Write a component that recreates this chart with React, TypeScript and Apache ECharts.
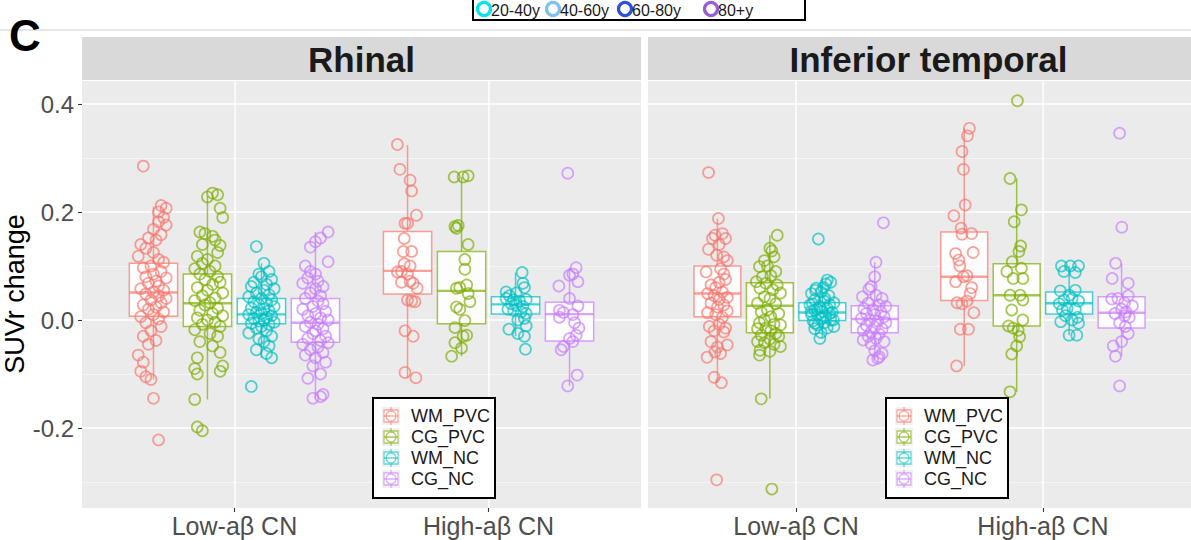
import React, { useEffect, useRef } from "react";
import * as echarts from "echarts";

// ---------- labels ----------
const facets = ["Rhinal", "Inferior temporal"];
const categories = ["Low-aβ CN", "High-aβ CN"];
const groups = ["WM_PVC", "CG_PVC", "WM_NC", "CG_NC"];
const groupColors = ["#F8766D", "#7CAE00", "#00BFC4", "#C77CFF"];
const yTicks = [-0.2, 0, 0.2, 0.4];
const yMinorTicks = [-0.3, -0.1, 0.1, 0.3];
const ageLabels = ["20-40y", "40-60y", "60-80y", "80+y"];
const ageColors = ["#00E5EE", "#7EC0EE", "#2F4FDB", "#9B5DD6"];

// ---------- box stats [lowWhisker, q1, median, q3, highWhisker] ----------
const boxesRhinalLow = [
  [-0.11, 0.007, 0.051, 0.105, 0.21],
  [-0.147, -0.012, 0.031, 0.085, 0.23],
  [-0.07, -0.007, 0.0105, 0.04, 0.105],
  [-0.145, -0.041, -0.005, 0.04, 0.163],
];
const boxesRhinalHigh = [
  [-0.107, 0.048, 0.091, 0.164, 0.324],
  [-0.067, -0.007, 0.054, 0.127, 0.265],
  [-0.03, 0.011, 0.029, 0.043, 0.088],
  [-0.122, -0.039, 0.011, 0.033, 0.097],
];
const boxesInfTempLow = [
  [-0.116, 0.006, 0.049, 0.1, 0.188],
  [-0.146, -0.0235, 0.0265, 0.069, 0.157],
  [-0.034, -0.001, 0.014, 0.032, 0.074],
  [-0.074, -0.0235, 0.002, 0.0265, 0.107],
];
const boxesInfTempHigh = [
  [-0.085, 0.036, 0.08, 0.163, 0.355],
  [-0.133, -0.011, 0.046, 0.104, 0.262],
  [-0.028, 0.011, 0.031, 0.052, 0.1],
  [-0.067, -0.015, 0.0135, 0.043, 0.105],
];

// ---------- jittered points [xJitter, value] ----------
const rhinalLowWM_PVC = [[-0.04,0.285],[0.03,0.212],[0.05,0.207],[0.02,0.2],[0.04,0.19],[0.02,0.182],[0.05,0.176],[0.0,0.168],[0.03,0.158],[-0.02,0.152],[0.01,0.148],[-0.05,0.14],[-0.03,0.133],[0.0,0.125],[-0.06,0.118],[0.02,0.112],[0.04,0.107],[-0.01,0.1],[-0.04,0.097],[0.03,0.09],[0.0,0.085],[-0.03,0.08],[0.05,0.078],[0.01,0.072],[-0.02,0.068],[0.02,0.063],[-0.05,0.058],[0.04,0.055],[0.0,0.052],[-0.03,0.048],[0.02,0.045],[0.05,0.04],[-0.01,0.037],[0.03,0.032],[-0.04,0.028],[0.01,0.024],[-0.02,0.02],[0.04,0.015],[0.0,0.01],[-0.05,0.006],[0.02,0.002],[-0.03,-0.005],[0.03,-0.012],[-0.01,-0.02],[-0.04,-0.03],[0.01,-0.038],[-0.02,-0.045],[-0.06,-0.065],[-0.04,-0.078],[-0.05,-0.095],[-0.03,-0.105],[-0.01,-0.11],[0.0,-0.145],[0.02,-0.222]];
const rhinalLowCG_PVC = [[0.02,0.235],[0.04,0.232],[0.0,0.228],[0.05,0.207],[0.06,0.19],[-0.03,0.163],[-0.01,0.16],[0.02,0.155],[0.03,0.148],[-0.02,0.14],[0.05,0.138],[0.04,0.125],[-0.04,0.118],[0.0,0.112],[-0.02,0.105],[0.03,0.1],[-0.05,0.095],[0.01,0.09],[-0.03,0.085],[0.04,0.08],[-0.01,0.075],[0.05,0.07],[0.02,0.066],[-0.04,0.06],[0.0,0.055],[0.06,0.05],[-0.02,0.045],[0.03,0.041],[-0.05,0.036],[0.01,0.032],[-0.01,0.028],[0.04,0.022],[-0.03,0.018],[0.02,0.012],[0.06,0.008],[-0.04,0.004],[0.0,0.0],[0.03,-0.004],[-0.02,-0.008],[0.05,-0.012],[-0.05,-0.018],[0.01,-0.025],[0.04,-0.03],[-0.03,-0.04],[0.02,-0.048],[0.05,-0.06],[-0.04,-0.07],[0.06,-0.085],[-0.05,-0.09],[0.05,-0.095],[-0.04,-0.1],[-0.05,-0.147],[-0.04,-0.198],[-0.02,-0.205]];
const rhinalLowWM_NC = [[-0.02,0.136],[0.01,0.105],[0.03,0.09],[-0.01,0.085],[0.0,0.08],[0.04,0.075],[-0.03,0.07],[0.02,0.066],[-0.04,0.062],[0.05,0.058],[0.01,0.055],[-0.02,0.05],[0.03,0.047],[-0.05,0.043],[0.0,0.04],[0.04,0.037],[-0.03,0.034],[0.02,0.031],[-0.01,0.028],[0.05,0.025],[-0.04,0.022],[0.01,0.02],[0.03,0.017],[-0.02,0.014],[0.0,0.012],[-0.05,0.01],[0.04,0.008],[0.02,0.005],[-0.03,0.003],[0.01,0.0],[-0.01,-0.002],[0.05,-0.004],[-0.04,-0.006],[0.03,-0.008],[0.0,-0.012],[-0.02,-0.015],[0.02,-0.02],[-0.05,-0.024],[0.04,-0.03],[-0.01,-0.035],[0.01,-0.04],[0.03,-0.048],[-0.02,-0.055],[0.02,-0.062],[0.04,-0.07],[-0.04,-0.123]];
const rhinalLowCG_NC = [[0.05,0.163],[0.02,0.152],[0.0,0.145],[-0.02,0.135],[0.05,0.108],[-0.04,0.1],[-0.02,0.09],[0.0,0.085],[-0.03,0.078],[0.01,0.072],[-0.05,0.068],[0.03,0.062],[0.0,0.058],[-0.02,0.05],[0.02,0.045],[-0.04,0.04],[0.01,0.035],[0.03,0.03],[-0.01,0.025],[-0.05,0.02],[0.04,0.016],[0.0,0.012],[-0.03,0.008],[0.02,0.004],[0.05,0.0],[-0.02,-0.004],[0.01,-0.008],[-0.04,-0.012],[0.03,-0.016],[0.0,-0.02],[-0.01,-0.025],[0.04,-0.03],[-0.03,-0.034],[0.02,-0.038],[0.05,-0.042],[-0.05,-0.045],[0.01,-0.05],[-0.02,-0.055],[0.03,-0.06],[-0.04,-0.065],[0.0,-0.07],[0.04,-0.078],[-0.01,-0.085],[0.02,-0.1],[-0.03,-0.108],[0.03,-0.138],[0.02,-0.142],[-0.01,-0.145]];

const rhinalHighWM_PVC = [[-0.04,0.325],[-0.03,0.279],[0.01,0.259],[0.016,0.239],[0.035,0.194],[-0.01,0.179],[0.0,0.179],[-0.013,0.151],[-0.017,0.127],[0.016,0.127],[-0.013,0.104],[0.01,0.1],[-0.04,0.089],[-0.024,0.09],[0.0,0.085],[-0.024,0.07],[0.01,0.072],[0.022,0.068],[0.038,0.059],[0.0,0.037],[0.016,0.035],[0.029,0.034],[-0.01,-0.02],[0.022,-0.03],[-0.01,-0.097],[0.033,-0.107]];
const rhinalHighCG_PVC = [[-0.029,0.265],[0.006,0.265],[0.026,0.267],[-0.026,0.173],[-0.013,0.175],[-0.02,0.17],[0.026,0.14],[0.013,0.112],[0.013,0.094],[0.02,0.065],[-0.02,0.059],[-0.007,0.06],[0.026,0.049],[0.033,0.034],[-0.02,0.024],[-0.007,0.02],[0.013,-0.001],[-0.026,-0.014],[0.02,-0.028],[0.006,-0.03],[-0.026,-0.042],[0.0,-0.052],[-0.039,-0.067]];
const rhinalHighWM_NC = [[0.026,0.088],[0.029,0.068],[0.035,0.06],[-0.037,0.052],[0.003,0.05],[-0.024,0.045],[-0.037,0.04],[-0.008,0.037],[0.016,0.035],[0.042,0.038],[-0.017,0.03],[0.003,0.027],[0.029,0.025],[-0.03,0.02],[-0.008,0.018],[0.022,0.015],[0.042,0.012],[0.035,0.003],[0.009,0.0],[0.042,-0.011],[-0.026,-0.017],[0.009,-0.025],[0.035,-0.03],[0.039,-0.054]];
const rhinalHighCG_NC = [[-0.007,0.272],[0.026,0.097],[0.0,0.083],[0.033,0.071],[0.013,0.085],[-0.042,0.063],[0.0,0.04],[-0.04,0.018],[-0.024,0.014],[0.033,0.026],[0.013,0.01],[-0.04,0.005],[0.02,-0.005],[0.037,-0.015],[0.026,-0.028],[0.0,-0.034],[0.013,-0.04],[-0.024,-0.049],[-0.033,-0.055],[0.03,-0.102],[-0.007,-0.122]];

const infTempLowWM_PVC = [[-0.036,0.273],[0.004,0.188],[-0.02,0.151],[0.033,0.151],[-0.01,0.157],[0.02,0.16],[-0.036,0.131],[0.007,0.14],[0.026,0.117],[-0.003,0.12],[0.04,0.11],[-0.046,0.089],[0.013,0.095],[0.026,0.085],[-0.026,0.065],[0.007,0.07],[0.033,0.075],[-0.007,0.06],[-0.04,0.049],[0.02,0.052],[-0.013,0.045],[0.04,0.042],[0.007,0.038],[-0.026,0.031],[0.026,0.028],[0.0,0.024],[-0.04,0.0135],[0.04,0.017],[-0.007,0.01],[0.02,0.005],[-0.033,-0.012],[0.007,-0.008],[0.033,-0.015],[-0.013,-0.02],[0.026,-0.022],[-0.026,-0.04],[0.04,-0.046],[0.0,-0.05],[-0.042,-0.069],[-0.01,-0.059],[0.013,-0.062],[-0.013,-0.106],[0.016,-0.116],[-0.003,-0.296]];
const infTempLowCG_PVC = [[0.03,0.157],[0.0,0.133],[0.008,0.128],[0.017,0.117],[-0.022,0.11],[-0.042,0.099],[-0.01,0.1],[0.024,0.09],[-0.03,0.08],[0.004,0.082],[-0.055,0.071],[-0.016,0.068],[0.03,0.065],[-0.04,0.059],[0.012,0.056],[0.043,0.05],[-0.022,0.043],[0.0,0.04],[-0.05,0.031],[0.024,0.03],[-0.01,0.0185],[-0.035,0.015],[0.036,0.012],[0.004,0.006],[-0.022,0.0],[-0.042,-0.005],[0.017,-0.008],[0.043,-0.009],[-0.016,-0.015],[-0.05,-0.016],[0.004,-0.02],[0.024,-0.025],[-0.035,-0.028],[0.036,-0.03],[0.0,-0.035],[-0.05,-0.04],[-0.022,-0.042],[0.017,-0.045],[0.043,-0.049],[-0.04,-0.056],[0.0,-0.058],[-0.042,-0.065],[-0.035,-0.146],[0.008,-0.313]];
const infTempLowWM_NC = [[-0.016,0.15],[0.02,0.074],[0.034,0.07],[0.014,0.067],[-0.025,0.059],[-0.044,0.049],[-0.005,0.052],[0.027,0.045],[-0.031,0.037],[0.008,0.035],[0.047,0.032],[-0.05,0.028],[-0.01,0.025],[0.02,0.022],[-0.031,0.0185],[0.0,0.016],[0.04,0.014],[-0.044,0.01],[-0.018,0.009],[0.014,0.006],[-0.005,0.003],[0.034,0.0],[-0.037,-0.002],[0.008,-0.005],[-0.018,-0.009],[0.047,-0.012],[0.02,-0.015],[-0.031,-0.016],[-0.005,-0.023],[-0.01,-0.034],[0.03,0.012],[-0.02,0.02],[0.01,0.04],[0.03,0.028],[-0.03,-0.006],[0.045,0.0],[-0.04,0.03],[0.005,0.06],[-0.028,0.055],[-0.045,0.016]];
const infTempLowCG_NC = [[0.035,0.18],[0.005,0.107],[0.0,0.08],[-0.015,0.062],[-0.024,0.057],[0.005,0.046],[-0.05,0.043],[0.03,0.04],[-0.027,0.031],[0.018,0.028],[0.045,0.025],[-0.044,0.0215],[-0.008,0.019],[0.025,0.015],[-0.034,0.012],[0.0,0.01],[0.038,0.006],[-0.054,0.003],[-0.02,0.0],[0.012,-0.002],[0.045,-0.005],[-0.034,-0.01],[0.0,-0.013],[0.03,-0.016],[-0.047,-0.019],[-0.015,-0.022],[0.018,-0.026],[-0.027,-0.03],[0.005,-0.034],[-0.047,-0.037],[0.038,-0.04],[-0.015,-0.044],[0.0,-0.057],[0.03,-0.062],[0.012,-0.071],[-0.008,-0.074],[0.018,-0.068]];

const infTempHighWM_PVC = [[0.021,0.355],[0.013,0.341],[-0.009,0.312],[-0.003,0.279],[0.004,0.213],[-0.042,0.193],[-0.013,0.17],[-0.009,0.159],[0.03,0.16],[-0.035,0.123],[-0.022,0.111],[0.036,0.125],[-0.018,0.1],[-0.003,0.08],[0.011,0.082],[-0.035,0.071],[0.024,0.049],[0.03,0.06],[-0.029,0.032],[-0.009,0.03],[0.011,0.035],[0.039,0.0135],[-0.016,-0.017],[0.017,-0.017],[-0.031,-0.085]];
const infTempHighCG_PVC = [[0.003,0.406],[-0.027,0.262],[0.019,0.204],[-0.01,0.182],[0.016,0.137],[0.009,0.127],[-0.018,0.108],[-0.04,0.09],[0.019,0.096],[-0.014,0.077],[0.025,0.077],[-0.027,0.046],[0.014,0.046],[0.025,0.037],[-0.02,0.0185],[0.025,0.0],[-0.033,-0.011],[-0.014,-0.015],[0.006,-0.019],[0.012,-0.031],[0.0,-0.048],[-0.02,-0.063],[-0.027,-0.133]];
const infTempHighWM_NC = [[-0.031,0.1],[0.005,0.1],[0.038,0.1],[0.025,0.088],[-0.021,0.09],[-0.036,0.054],[0.025,0.055],[0.0,0.046],[-0.021,0.037],[0.012,0.04],[0.038,0.035],[-0.04,0.03],[-0.008,0.0215],[0.025,0.02],[-0.027,0.018],[0.034,0.005],[-0.015,0.008],[0.012,0.0],[-0.034,-0.003],[0.038,-0.006],[0.0,-0.028],[0.031,-0.028]];
const infTempHighCG_NC = [[-0.008,0.346],[0.001,0.172],[-0.024,0.105],[-0.038,0.077],[0.027,0.068],[-0.04,0.039],[-0.015,0.04],[0.027,0.045],[0.012,0.032],[0.044,0.026],[0.0,0.02],[0.018,0.015],[-0.027,0.012],[0.012,0.008],[0.031,0.005],[-0.008,-0.005],[0.015,-0.012],[0.027,-0.025],[-0.034,-0.048],[0.0,-0.04],[-0.025,-0.067],[-0.008,-0.122]];

// ---------- assembled (facet -> category -> group) ----------
const facetBoxes = [
  [boxesRhinalLow, boxesRhinalHigh],
  [boxesInfTempLow, boxesInfTempHigh],
];
const facetPoints = [
  [
    [rhinalLowWM_PVC, rhinalLowCG_PVC, rhinalLowWM_NC, rhinalLowCG_NC],
    [rhinalHighWM_PVC, rhinalHighCG_PVC, rhinalHighWM_NC, rhinalHighCG_NC],
  ],
  [
    [infTempLowWM_PVC, infTempLowCG_PVC, infTempLowWM_NC, infTempLowCG_NC],
    [infTempHighWM_PVC, infTempHighCG_PVC, infTempHighWM_NC, infTempHighCG_NC],
  ],
];

// ---------- layout / style ----------
const DODGE = 0.2125;
const BOX_W = 0.19;
const Y_MIN = -0.3481;
const Y_MAX = 0.4426;
const FONT = "'Liberation Sans', Arial, Helvetica, sans-serif";
const gridRects = [
  { left: 82, top: 81, width: 559, height: 427 },
  { left: 648, top: 81, width: 561, height: 427 },
];
const legendPos = [
  { x: 373, y: 398 },
  { x: 886, y: 398 },
];

function rgba(hex: string, a: number) {
  const n = parseInt(hex.slice(1), 16);
  return `rgba(${(n >> 16) & 255},${(n >> 8) & 255},${n & 255},${a})`;
}

function buildOption() {
  const grid: any[] = [];
  const xAxis: any[] = [];
  const yAxis: any[] = [];
  const series: any[] = [];
  const graphic: any[] = [];

  gridRects.forEach((g, f) => {
    grid.push({ ...g, show: true, backgroundColor: "#EBEBEB", borderWidth: 0 });
    xAxis.push({
      type: "value",
      gridIndex: f,
      position: "bottom",
      min: 0.4,
      max: 2.6,
      axisLine: { show: false, onZero: false },
      axisTick: {
        show: true,
        customValues: [1, 2],
        length: 4,
        lineStyle: { color: "#333333", width: 1.1 },
      },
      axisLabel: {
        customValues: [1, 2],
        formatter: (v: number) => categories[Math.round(v) - 1] ?? "",
        fontSize: 25,
        color: "#4D4D4D",
        fontFamily: FONT,
        margin: 5,
      },
      splitLine: { show: true, lineStyle: { color: "#FFFFFF", width: 1.5 } },
    });
    // major y axis
    yAxis.push({
      type: "value",
      gridIndex: f,
      min: Y_MIN,
      max: Y_MAX,
      axisLine: { show: false, onZero: false },
      axisTick: {
        show: f === 0,
        customValues: yTicks,
        length: 4,
        lineStyle: { color: "#333333", width: 1.1 },
      },
      axisLabel: {
        show: f === 0,
        customValues: yTicks,
        formatter: (v: number) => v.toFixed(1),
        fontSize: 24,
        color: "#4D4D4D",
        fontFamily: FONT,
        margin: 8,
      },
      splitLine: { show: true, lineStyle: { color: "#FFFFFF", width: 1.5 } },
    });
    // minor y axis (grid lines only)
    yAxis.push({
      type: "value",
      gridIndex: f,
      min: Y_MIN,
      max: Y_MAX,
      axisLine: { show: false, onZero: false },
      axisTick: { show: false, customValues: yMinorTicks },
      axisLabel: { show: false, customValues: yMinorTicks },
      splitLine: { show: true, lineStyle: { color: "#F7F7F7", width: 0.8 } },
    });
  });

  // boxes
  facetBoxes.forEach((cats, f) => {
    groups.forEach((gname, gi) => {
      const color = groupColors[gi];
      const data = cats.map((boxes, ci) => [ci + 1 + (gi - 1.5) * DODGE, ...boxes[gi]]);
      series.push({
        type: "custom",
        name: gname,
        xAxisIndex: f,
        yAxisIndex: f * 2,
        z: 2,
        silent: true,
        encode: { x: 0, y: [1, 2, 3, 4, 5] },
        data,
        renderItem: (_params: any, api: any) => {
          const x = api.value(0);
          const lo = api.coord([x, api.value(1)]);
          const q1 = api.coord([x, api.value(2)]);
          const md = api.coord([x, api.value(3)]);
          const q3 = api.coord([x, api.value(4)]);
          const hi = api.coord([x, api.value(5)]);
          const w = api.size([BOX_W, 0])[0];
          const stroke = rgba(color, 0.7);
          return {
            type: "group",
            children: [
              { type: "line", shape: { x1: lo[0], y1: lo[1], x2: q1[0], y2: q1[1] }, style: { stroke, lineWidth: 1.5 } },
              { type: "line", shape: { x1: q3[0], y1: q3[1], x2: hi[0], y2: hi[1] }, style: { stroke, lineWidth: 1.5 } },
              {
                type: "rect",
                shape: { x: q3[0] - w / 2, y: q3[1], width: w, height: q1[1] - q3[1] },
                style: { fill: "rgba(255,255,255,0.88)", stroke, lineWidth: 1.5 },
              },
              { type: "line", shape: { x1: md[0] - w / 2, y1: md[1], x2: md[0] + w / 2, y2: md[1] }, style: { stroke, lineWidth: 2.4 } },
            ],
          };
        },
      });
    });
  });

  // points
  facetPoints.forEach((cats, f) => {
    groups.forEach((gname, gi) => {
      const color = groupColors[gi];
      const data: number[][] = [];
      cats.forEach((grp, ci) => {
        grp[gi].forEach(([dx, v]) => data.push([ci + 1 + (gi - 1.5) * DODGE + dx, v]));
      });
      series.push({
        type: "scatter",
        name: gname,
        xAxisIndex: f,
        yAxisIndex: f * 2,
        z: 3,
        silent: true,
        symbol: "circle",
        symbolSize: 11,
        data,
        itemStyle: { color: "rgba(0,0,0,0)", borderColor: rgba(color, 0.85), borderWidth: 1.7 },
      });
    });
  });

  // strips
  gridRects.forEach((g, f) => {
    graphic.push({ type: "rect", shape: { x: g.left, y: 37, width: g.width, height: 43 }, style: { fill: "#D9D9D9" }, silent: true });
    graphic.push({
      type: "text",
      x: g.left + g.width / 2,
      y: 59,
      style: { text: facets[f], fontSize: 35, fontWeight: "bold", fill: "#1A1A1A", fontFamily: FONT, align: "center", verticalAlign: "middle" },
      silent: true,
    });
  });

  // in-panel legends
  legendPos.forEach((p) => {
    graphic.push({ type: "rect", shape: { x: p.x, y: p.y, width: 122, height: 100 }, style: { fill: "#FFFFFF", stroke: "#000000", lineWidth: 2 }, z: 50 });
    groups.forEach((gname, gi) => {
      const cy = p.y + 18 + gi * 21;
      const cx = p.x + 18;
      const c = rgba(groupColors[gi], 0.6);
      graphic.push({ type: "rect", shape: { x: cx - 9, y: cy - 9, width: 18, height: 18 }, style: { fill: "#F2F2F2" }, z: 51 });
      graphic.push({ type: "line", shape: { x1: cx, y1: cy - 9, x2: cx, y2: cy + 9 }, style: { stroke: c, lineWidth: 1.3 }, z: 52 });
      graphic.push({ type: "rect", shape: { x: cx - 7, y: cy - 6, width: 14, height: 12 }, style: { fill: "#FFFFFF", stroke: c, lineWidth: 1.3 }, z: 52 });
      graphic.push({ type: "line", shape: { x1: cx - 7, y1: cy, x2: cx + 7, y2: cy }, style: { stroke: c, lineWidth: 1.6 }, z: 53 });
      graphic.push({ type: "circle", shape: { cx, cy, r: 5 }, style: { fill: "none", stroke: c, lineWidth: 1.4 }, z: 53 });
      graphic.push({
        type: "text",
        x: p.x + 38,
        y: cy,
        style: { text: gname, fontSize: 18, fill: "#1A1A1A", fontFamily: FONT, verticalAlign: "middle" },
        z: 53,
      });
    });
  });

  // top: panel letter, separator line, age legend (cropped at top in the source)
  graphic.push({ type: "line", shape: { x1: 0, y1: 30, x2: 1191, y2: 30 }, style: { stroke: "#CCCCCC", lineWidth: 1 }, z: 1 });
  graphic.push({ type: "text", x: 9, y: 35, style: { text: "C", fontSize: 44, fontWeight: "bold", fill: "#000000", fontFamily: FONT, verticalAlign: "middle" }, z: 5 });
  graphic.push({ type: "rect", shape: { x: 473, y: -30, width: 332, height: 50 }, style: { fill: "#FFFFFF", stroke: "#000000", lineWidth: 2 }, z: 5 });
  const ageX = [484, 553, 625, 711];
  ageLabels.forEach((lab, i) => {
    graphic.push({ type: "circle", shape: { cx: ageX[i], cy: 9, r: 6.5 }, style: { fill: "none", stroke: ageColors[i], lineWidth: 3.2 }, z: 6 });
    graphic.push({
      type: "text",
      x: ageX[i] + 7,
      y: 10,
      style: { text: lab, fontSize: 16, fill: "#1A1A1A", fontFamily: FONT, verticalAlign: "middle" },
      z: 6,
    });
  });
  // y-axis title
  graphic.push({
    type: "text",
    x: 15,
    y: 294,
    rotation: Math.PI / 2,
    style: { text: "SUVr change", fontSize: 27, fill: "#000000", fontFamily: FONT, align: "center", verticalAlign: "middle" },
  });

  return {
    animation: false,
    backgroundColor: "#FFFFFF",
    textStyle: { fontFamily: FONT },
    grid,
    xAxis,
    yAxis,
    series,
    graphic,
  };
}

export default function App() {
  const ref = useRef<HTMLDivElement>(null);
  useEffect(() => {
    if (!ref.current) return;
    const chart = echarts.init(ref.current, null, { renderer: "svg" });
    chart.setOption(buildOption() as any);
    return () => chart.dispose();
  }, []);
  return (
    <div
      ref={ref}
      style={{ position: "fixed", left: 0, top: 0, width: 1191, height: 540, background: "#FFFFFF" }}
    />
  );
}
